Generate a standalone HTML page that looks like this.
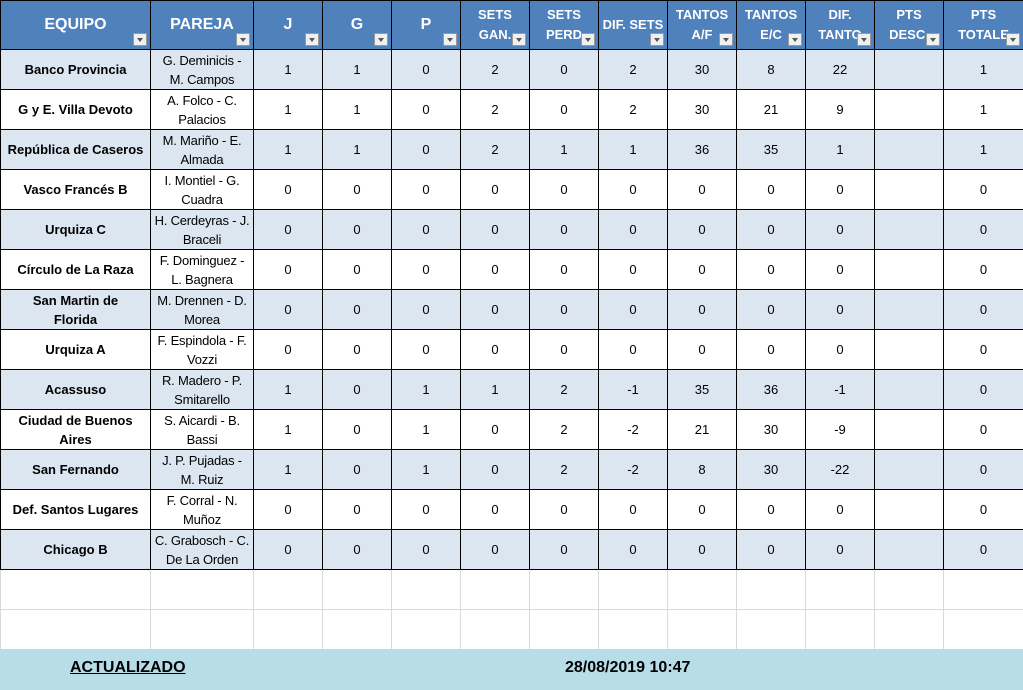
<!DOCTYPE html>
<html><head><meta charset="utf-8"><style>
body{margin:0;width:1023px;height:690px;overflow:hidden;background:#fff;font-family:"Liberation Sans",sans-serif;}
table{border-collapse:collapse;table-layout:fixed;width:1023px;position:absolute;left:0;top:0}
td{border:1px solid #000;text-align:center;vertical-align:middle;font-size:13px;color:#000;padding:0;overflow:hidden;white-space:nowrap;line-height:19px}
tr.h td{background:#4f81bd;color:#fff;font-weight:bold;height:48px;position:relative;font-size:13px;line-height:20px}
tr.h td.big{font-size:16px}
tr.r td{height:39px}
tr.s td{background:#dce6f1}
td.t{font-weight:bold}
td.p{letter-spacing:-0.2px}
tr.e td{border:1px solid #d9d9d9;height:39px}
tr.e:first-of-type td{border-top:1px solid #000}
.f{display:inline-block;position:absolute;right:3px;bottom:3px;width:14px;height:13px;background:#f0f0f0;border:1px solid #999;box-sizing:border-box}
.f:after{content:"";position:absolute;left:3px;top:4px;border-left:3px solid transparent;border-right:3px solid transparent;border-top:4px solid #555}
#foot{position:absolute;left:0;top:649px;width:1023px;height:41px;background:#b7dde8;font-weight:bold;font-size:16px}
</style></head><body>
<table>
<colgroup><col style="width:150px"><col style="width:103px"><col style="width:69px"><col style="width:69px"><col style="width:69px"><col style="width:69px"><col style="width:69px"><col style="width:69px"><col style="width:69px"><col style="width:69px"><col style="width:69px"><col style="width:69px"><col style="width:80px"></colgroup>
<tr class="h"><td class="big">EQUIPO<span class="f"></span></td><td class="big">PAREJA<span class="f"></span></td><td class="big">J<span class="f"></span></td><td class="big">G<span class="f"></span></td><td class="big">P<span class="f"></span></td><td>SETS<br>GAN.<span class="f"></span></td><td>SETS<br>PERD<span class="f"></span></td><td>DIF. SETS<span class="f"></span></td><td>TANTOS<br>A/F<span class="f"></span></td><td>TANTOS<br>E/C<span class="f"></span></td><td>DIF.<br>TANTO<span class="f"></span></td><td>PTS<br>DESC.<span class="f"></span></td><td>PTS<br>TOTALE<span class="f"></span></td></tr>
<tr class="r s"><td class="t">Banco Provincia</td><td class="p">G. Deminicis -<br>M. Campos</td><td>1</td><td>1</td><td>0</td><td>2</td><td>0</td><td>2</td><td>30</td><td>8</td><td>22</td><td></td><td>1</td></tr>
<tr class="r"><td class="t">G y E. Villa Devoto</td><td class="p">A. Folco - C.<br>Palacios</td><td>1</td><td>1</td><td>0</td><td>2</td><td>0</td><td>2</td><td>30</td><td>21</td><td>9</td><td></td><td>1</td></tr>
<tr class="r s"><td class="t">República de Caseros</td><td class="p">M. Mariño - E.<br>Almada</td><td>1</td><td>1</td><td>0</td><td>2</td><td>1</td><td>1</td><td>36</td><td>35</td><td>1</td><td></td><td>1</td></tr>
<tr class="r"><td class="t">Vasco Francés B</td><td class="p">I. Montiel - G.<br>Cuadra</td><td>0</td><td>0</td><td>0</td><td>0</td><td>0</td><td>0</td><td>0</td><td>0</td><td>0</td><td></td><td>0</td></tr>
<tr class="r s"><td class="t">Urquiza C</td><td class="p">H. Cerdeyras - J.<br>Braceli</td><td>0</td><td>0</td><td>0</td><td>0</td><td>0</td><td>0</td><td>0</td><td>0</td><td>0</td><td></td><td>0</td></tr>
<tr class="r"><td class="t">Círculo de La Raza</td><td class="p">F. Dominguez -<br>L. Bagnera</td><td>0</td><td>0</td><td>0</td><td>0</td><td>0</td><td>0</td><td>0</td><td>0</td><td>0</td><td></td><td>0</td></tr>
<tr class="r s"><td class="t">San Martin de<br>Florida</td><td class="p">M. Drennen - D.<br>Morea</td><td>0</td><td>0</td><td>0</td><td>0</td><td>0</td><td>0</td><td>0</td><td>0</td><td>0</td><td></td><td>0</td></tr>
<tr class="r"><td class="t">Urquiza A</td><td class="p">F. Espindola - F.<br>Vozzi</td><td>0</td><td>0</td><td>0</td><td>0</td><td>0</td><td>0</td><td>0</td><td>0</td><td>0</td><td></td><td>0</td></tr>
<tr class="r s"><td class="t">Acassuso</td><td class="p">R. Madero - P.<br>Smitarello</td><td>1</td><td>0</td><td>1</td><td>1</td><td>2</td><td>-1</td><td>35</td><td>36</td><td>-1</td><td></td><td>0</td></tr>
<tr class="r"><td class="t">Ciudad de Buenos<br>Aires</td><td class="p">S. Aicardi - B.<br>Bassi</td><td>1</td><td>0</td><td>1</td><td>0</td><td>2</td><td>-2</td><td>21</td><td>30</td><td>-9</td><td></td><td>0</td></tr>
<tr class="r s"><td class="t">San Fernando</td><td class="p">J. P. Pujadas -<br>M. Ruiz</td><td>1</td><td>0</td><td>1</td><td>0</td><td>2</td><td>-2</td><td>8</td><td>30</td><td>-22</td><td></td><td>0</td></tr>
<tr class="r"><td class="t">Def. Santos Lugares</td><td class="p">F. Corral - N.<br>Muñoz</td><td>0</td><td>0</td><td>0</td><td>0</td><td>0</td><td>0</td><td>0</td><td>0</td><td>0</td><td></td><td>0</td></tr>
<tr class="r s"><td class="t">Chicago B</td><td class="p">C. Grabosch - C.<br>De La Orden</td><td>0</td><td>0</td><td>0</td><td>0</td><td>0</td><td>0</td><td>0</td><td>0</td><td>0</td><td></td><td>0</td></tr>
<tr class="e"><td></td><td></td><td></td><td></td><td></td><td></td><td></td><td></td><td></td><td></td><td></td><td></td><td></td></tr>
<tr class="e"><td></td><td></td><td></td><td></td><td></td><td></td><td></td><td></td><td></td><td></td><td></td><td></td><td></td></tr>
</table>
<div id="foot"><span style="position:absolute;left:70px;top:10px;text-decoration:underline">ACTUALIZADO</span><span style="position:absolute;left:565px;top:10px">28/08/2019 10:47</span></div>
</body></html>
